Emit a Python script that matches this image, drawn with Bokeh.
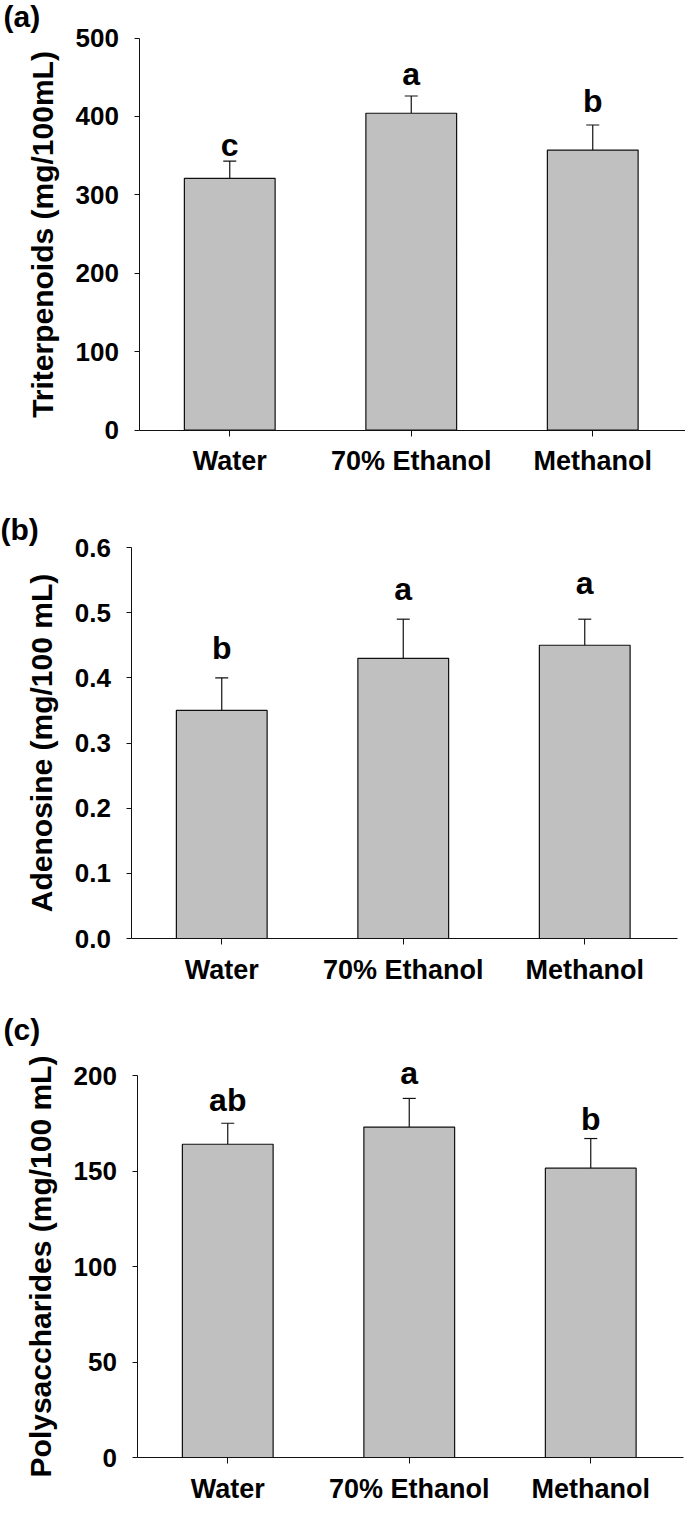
from bokeh.plotting import figure
from bokeh.models import (Range1d, FixedTicker, NumeralTickFormatter,
                          Whisker, TeeHead, ColumnDataSource, Label)
from bokeh.layouts import column
from bokeh.embed import file_html
from bokeh.resources import INLINE
from bokeh.core.properties import value

# ---------------- data ----------------
solvents = ["Water", "70% Ethanol", "Methanol"]

trit_mean = [321, 404, 357]
trit_err = [22, 22, 32]
trit_letters = ["c", "a", "b"]
trit_ticks = [0, 100, 200, 300, 400, 500]

aden_mean = [0.35, 0.43, 0.45]
aden_err = [0.05, 0.06, 0.04]
aden_letters = ["b", "a", "a"]
aden_ticks = [0.0, 0.1, 0.2, 0.3, 0.4, 0.5, 0.6]

poly_mean = [164, 173, 151.5]
poly_err = [11, 15, 15.5]
poly_letters = ["ab", "a", "b"]
poly_ticks = [0, 50, 100, 150, 200]

# ---------------- style / layout ----------------
FONT = "Liberation Sans"
BAR_FILL = "#c0c0c0"
INK = "#111111"
W = 685          # figure width (px)
SLOT = 181.5     # px per category slot


def make_panel(tag, ylabel, means, errs, letters, ticks, fmt,
               top, height, axis_x, zero_y, max_y, letter_gaps,
               tag_x, tag_y):
    """top/height: figure placement on page; axis_x: page x of y-axis;
    zero_y / max_y: page y of value 0 and of the last tick."""
    ymax = ticks[-1]
    idx = list(range(len(solvents)))
    ppu = (zero_y - max_y) / ymax
    x0 = -0.5 - axis_x / SLOT
    x1 = x0 + W / SLOT
    y_lo = -(top + height - zero_y) / ppu
    y_hi = (zero_y - top) / ppu

    p = figure(x_range=Range1d(x0, x1), y_range=Range1d(y_lo, y_hi),
               width=W, height=height,
               min_border_left=0, min_border_right=0,
               min_border_top=0, min_border_bottom=0,
               output_backend="svg", toolbar_location=None)
    p.title = None
    upper = [m + e for m, e in zip(means, errs)]
    src = ColumnDataSource(dict(x=idx, top=means, upper=upper,
                                letters=letters,
                                gap=[-g for g in letter_gaps]))
    p.vbar(x="x", top="top", width=0.5, source=src,
           fill_color=BAR_FILL, line_color=INK, line_width=1.2)
    wh = Whisker(base="x", upper="upper", lower="top", source=src,
                 upper_head=TeeHead(size=13, line_color=INK, line_width=1.2),
                 lower_head=None, line_color=INK, line_width=1.2)
    p.add_layout(wh)
    p.text(x="x", y="upper", text="letters", source=src,
           y_offset="gap", text_align="center", text_baseline="alphabetic",
           text_font=value(FONT), text_font_style="bold",
           text_font_size="32px", text_color="black")

    # panel tag
    p.add_layout(Label(x=x0 + tag_x / SLOT, y=(zero_y - tag_y) / ppu,
                       text=tag, text_font=FONT, text_font_style="bold",
                       text_font_size="30px", text_color="black",
                       text_align="left", text_baseline="middle"))

    p.xgrid.visible = False
    p.ygrid.visible = False
    p.outline_line_color = None
    p.background_fill_color = "white"
    p.border_fill_color = "white"

    xa = p.xaxis[0]
    xa.fixed_location = 0
    xa.bounds = (-0.5, len(solvents) - 0.49)
    xa.ticker = FixedTicker(ticks=idx)
    xa.major_label_overrides = {i: s for i, s in zip(idx, solvents)}
    xa.axis_line_color = INK
    xa.major_tick_line_color = INK
    xa.major_tick_out = 6
    xa.major_tick_in = 0
    xa.minor_tick_line_color = None
    xa.major_label_standoff = 10
    xa.major_label_text_font = FONT
    xa.major_label_text_font_style = "bold"
    xa.major_label_text_font_size = "27px"
    xa.major_label_text_color = "black"

    ya = p.yaxis[0]
    ya.fixed_location = -0.5
    ya.bounds = (0, ymax)
    ya.ticker = FixedTicker(ticks=ticks)
    if fmt:
        ya.formatter = NumeralTickFormatter(format=fmt)
    ya.axis_line_color = INK
    ya.major_tick_line_color = INK
    ya.major_tick_out = 5
    ya.major_tick_in = 0
    ya.minor_tick_line_color = None
    ya.major_label_standoff = 15
    ya.major_label_text_font = FONT
    ya.major_label_text_font_style = "bold"
    ya.major_label_text_font_size = "26px"
    ya.major_label_text_color = "black"
    ya.axis_label = ylabel
    ya.axis_label_text_font = FONT
    ya.axis_label_text_font_style = "bold"
    ya.axis_label_text_font_size = "30px"
    ya.axis_label_text_color = "black"
    ya.axis_label_standoff = 14
    return p


pa = make_panel("(a)", "Triterpenoids (mg/100mL)", trit_mean, trit_err,
                trit_letters, trit_ticks, None,
                0, 493, 138.5, 429.5, 37.5, [16, 22, 24], 3, 16)
pb = make_panel("(b)", "Adenosine (mg/100 mL)", aden_mean, aden_err,
                aden_letters, aden_ticks, "0.0",
                493, 495, 130.5, 938, 547, [30, 30, 36], 0, 529)
pc = make_panel("(c)", "Polysaccharides (mg/100 mL)", poly_mean, poly_err,
                poly_letters, poly_ticks, None,
                988, 525, 136.5, 1457, 1075, [23, 25, 20], 3, 1029)

layout = column(pa, pb, pc, spacing=0)
open("out.html", "w").write(file_html(layout, INLINE))
